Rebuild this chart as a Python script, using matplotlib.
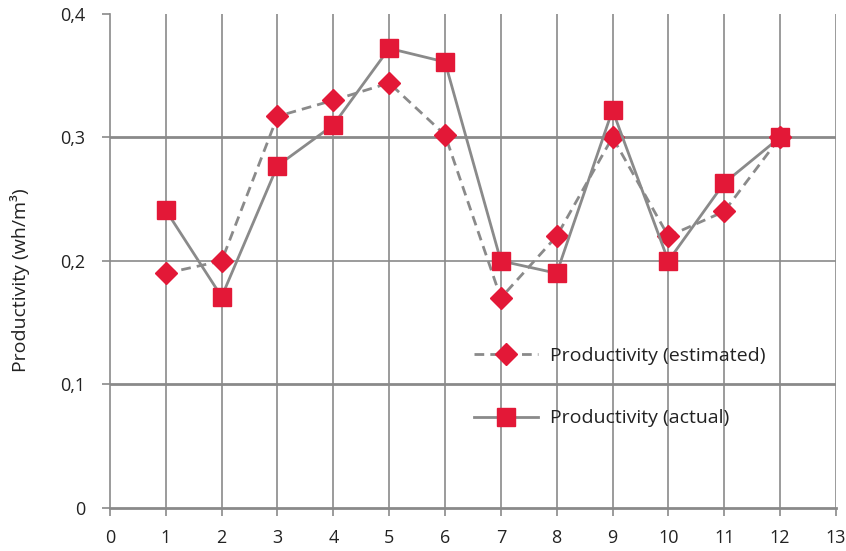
import numpy as np
import matplotlib.pyplot as plt
from matplotlib.ticker import FuncFormatter

plt.rcParams['font.family'] = ['Open Sans', 'DejaVu Sans']

months = [1, 2, 3, 4, 5, 6, 7, 8, 9, 10, 11, 12]
estimated = [0.19, 0.20, 0.317, 0.33, 0.344, 0.302, 0.17, 0.22, 0.30, 0.22, 0.24, 0.30]
actual = [0.241, 0.171, 0.277, 0.31, 0.372, 0.361, 0.20, 0.19, 0.322, 0.20, 0.263, 0.30]

red = '#e31837'
grey = '#8a8a8a'
ink = '#222222'

fig = plt.figure(figsize=(8.46, 5.51), dpi=100)
ax = fig.add_axes([0.130, 0.078, 0.858, 0.897])

# grid: vertical lines at every x, heavier lines at 0.1 and 0.3
for x in range(1, 14):
    ax.axvline(x, color=grey, lw=1.2, zorder=1)
for y, w in [(0.1, 2.0), (0.2, 1.2), (0.3, 2.0)]:
    ax.axhline(y, color=grey, lw=w, zorder=1)

ax.plot(months, estimated, color=grey, lw=2, ls=(0, (3.5, 2.2)), marker='D',
        ms=11.5, mfc=red, mec=red, label='Productivity (estimated)', zorder=3)
ax.plot(months, actual, color=grey, lw=2, marker='s', ms=13,
        mfc=red, mec=red, label='Productivity (actual)', zorder=3)

ax.set_xlim(0, 13)
ax.set_ylim(0, 0.4)
ax.set_xticks(range(0, 14))
ax.set_yticks([0, 0.1, 0.2, 0.3, 0.4])
ax.yaxis.set_major_formatter(FuncFormatter(lambda v, p: '0' if v == 0 else f'{v:.1f}'.replace('.', ',')))

for s in ['top', 'right']:
    ax.spines[s].set_visible(False)
ax.spines['left'].set_color(grey)
ax.spines['left'].set_linewidth(1.2)
ax.spines['bottom'].set_color(grey)
ax.spines['bottom'].set_linewidth(2)
ax.tick_params(axis='x', colors=grey, length=6, width=1.2, labelsize=13,
               labelcolor=ink, pad=9)
ax.tick_params(axis='y', colors=grey, length=6, width=1.2, labelsize=13,
               labelcolor=ink, pad=12)
ax.set_ylabel('Productivity (wh/m³)', fontsize=14, color=ink)
ax.yaxis.set_label_coords(-0.11, 0.46)

leg = ax.legend(loc='upper left', bbox_to_anchor=(0.477, 0.362), frameon=False,
                fontsize=14, handlelength=3.3, labelspacing=2.3, handletextpad=0.6)
for t in leg.get_texts():
    t.set_color(ink)

fig.savefig('out.png', dpi=100)
